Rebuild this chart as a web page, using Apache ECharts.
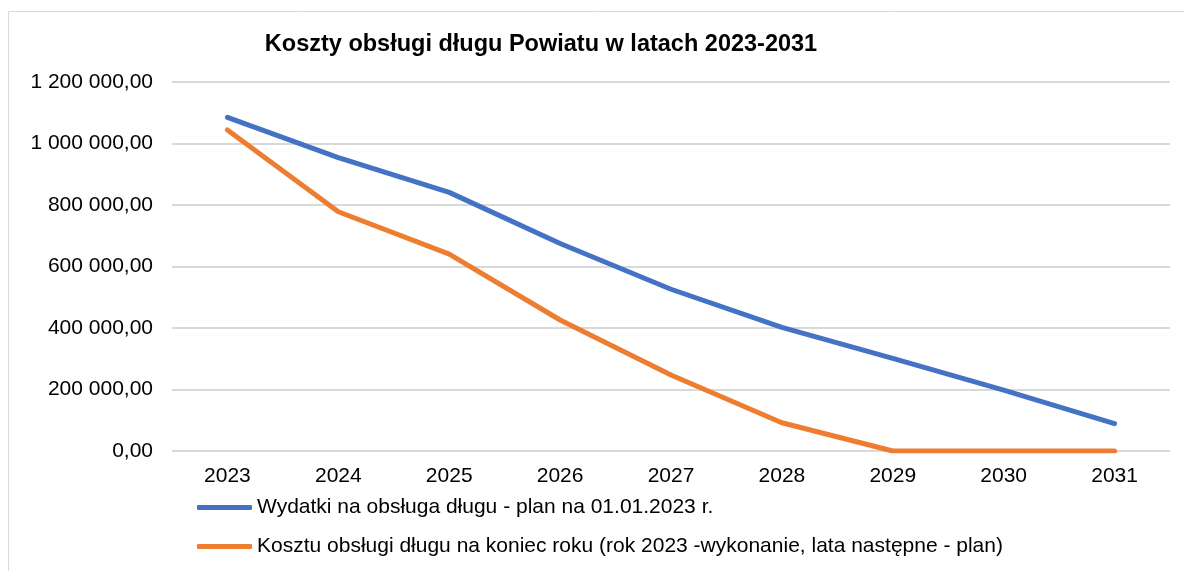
<!DOCTYPE html>
<html>
<head>
<meta charset="utf-8">
<script src="https://cdn.jsdelivr.net/npm/echarts@6/dist/echarts.min.js"></script>
<style>
html,body{margin:0;padding:0;background:#fff;}
#chart{width:1184px;height:571px;}
</style>
</head>
<body>
<div id="chart"></div>
<script>
var titleText = 'Koszty obsługi długu Powiatu w latach 2023-2031';
var years = ['2023','2024','2025','2026','2027','2028','2029','2030','2031'];
var seriesNames = [
  'Wydatki na obsługa długu - plan na 01.01.2023 r.',
  'Kosztu obsługi długu na koniec roku (rok 2023 -wykonanie, lata następne - plan)'
];
var planValues = [1085000, 954000, 841000, 675000, 526000, 402000, 301000, 198000, 89000];
var actualValues = [1044000, 778000, 640000, 426000, 247000, 92000, 0, 0, 0];

function fmt(v){
  var s = Math.round(v).toString().replace(/\B(?=(\d{3})+(?!\d))/g, ' ');
  return s + ',00';
}

var chart = echarts.init(document.getElementById('chart'));
chart.setOption({
  animation:false,
  textStyle:{fontFamily:'Liberation Sans, Arial, sans-serif', color:'#000'},
  graphic:[{
    type:'rect', silent:true,
    shape:{x:8.5, y:11.5, width:1200, height:600},
    style:{fill:'none', stroke:'#d9d9d9', lineWidth:1}
  }],
  title:{
    text:titleText,
    left:536, top:28, textAlign:'center',
    textStyle:{fontFamily:'Liberation Sans, Arial, sans-serif', fontWeight:'bold', fontSize:23.5, color:'#000'}
  },
  grid:{left:172, right:14, top:82, bottom:120, containLabel:false},
  legend:{
    orient:'vertical', left:192, top:492,
    itemWidth:55, itemHeight:5, itemGap:18,
    textStyle:{fontSize:21, color:'#000'},
    data:[
      {name:seriesNames[0], icon:'roundRect'},
      {name:seriesNames[1], icon:'roundRect'}
    ]
  },
  xAxis:{
    type:'category', data:years, boundaryGap:true,
    axisLine:{show:false}, axisTick:{show:false},
    axisLabel:{fontSize:21, color:'#000', margin:15}
  },
  yAxis:{
    type:'value', min:0, max:1200000, interval:200000,
    axisLine:{show:false}, axisTick:{show:false},
    axisLabel:{fontSize:21, color:'#000', margin:19, formatter:fmt},
    splitLine:{lineStyle:{color:'#d9d9d9', width:2}}
  },
  series:[
    {name:seriesNames[0], type:'line', data:planValues, showSymbol:false, symbol:'none',
     lineStyle:{color:'#4472C4', width:5, cap:'round', join:'round'}, itemStyle:{color:'#4472C4'}},
    {name:seriesNames[1], type:'line', data:actualValues, showSymbol:false, symbol:'none',
     lineStyle:{color:'#ED7D31', width:5, cap:'round', join:'round'}, itemStyle:{color:'#ED7D31'}}
  ]
});
</script>
</body>
</html>
